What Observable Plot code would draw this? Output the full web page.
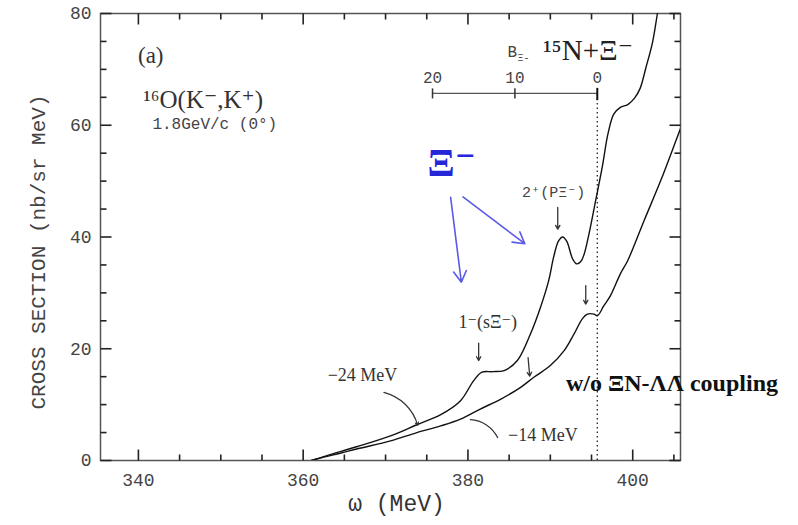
<!DOCTYPE html>
<html>
<head>
<meta charset="utf-8">
<script src="https://cdn.jsdelivr.net/npm/d3@7"></script>
<script src="https://cdn.jsdelivr.net/npm/@observablehq/plot@0.6"></script>
<style>
  html, body { margin: 0; padding: 0; background: #fff; }
  #chart { width: 798px; height: 525px; }
</style>
</head>
<body>
<div id="chart"></div>
<script>
// ---- data ----
const omegaUpper = [361.0, 362.5, 364.5, 366.6, 370.6, 373.8, 376.7, 379.1, 380.7, 381.7, 383.0, 384.4, 386.0, 387.6, 388.8, 389.8, 390.4, 391.0, 391.5, 392.0, 392.7, 393.2, 393.7, 394.1, 394.7, 395.5, 396.3, 397.0, 397.7, 398.5, 399.4, 400.2, 400.9, 401.6, 402.4, 403.0, 403.5];
const sigmaUpper = [0, 0.7, 1.6, 2.5, 4.4, 6.4, 8.2, 10.7, 14.3, 15.8, 15.9, 16.1, 17.9, 22.7, 27.4, 32.2, 36.4, 39.3, 40.0, 39.2, 36.1, 35.2, 35.6, 36.9, 40.6, 46.5, 52.5, 58.5, 62.0, 63.2, 63.7, 64.8, 66.6, 70.3, 74.8, 80.0, 84.0];

const omegaLower = [361.0, 362.5, 364.5, 366.6, 370.6, 373.8, 376.7, 379.1, 381.5, 384.0, 386.4, 388.0, 390.0, 391.7, 392.9, 393.9, 394.5, 395.3, 395.7, 396.5, 397.3, 398.5, 399.4, 401.4, 403.4, 404.8, 405.8];
const sigmaLower = [0, 0.6, 1.3, 2.1, 3.5, 5.0, 6.2, 7.4, 9.2, 11.0, 13.1, 14.9, 17.0, 19.7, 22.7, 25.4, 26.2, 26.2, 25.9, 27.7, 29.5, 33.4, 35.8, 43.0, 50.1, 55.5, 59.4];

const xMajorTicks = [340, 360, 380, 400];
const xMinorTicks = [345, 350, 355, 365, 370, 375, 385, 390, 395, 405];
const yMajorTicks = [0, 20, 40, 60, 80];
const yMinorTicks = [5, 10, 15, 25, 30, 35, 45, 50, 55, 65, 70, 75];
const bindingTicks = [20, 10, 0];
const thresholdOmega = 395.7;   // Xi- threshold (B = 0)
const bindingBarLevel = 65.7;   // height of the B scale bar

const upper = omegaUpper.map((w, i) => ({w, s: sigmaUpper[i]}));
const lower = omegaLower.map((w, i) => ({w, s: sigmaLower[i]}));

const mono = "Liberation Mono, DejaVu Sans Mono, monospace";
const serif = "Liberation Serif, DejaVu Serif, serif";

const W = 798, H = 525, ML = 100, MR = 118, MT = 13, MB = 65;
const frameW = W - ML - MR, frameH = H - MT - MB;
const xDomain = [335.4, 405.8], yDomain = [0, 80];
// tick lengths converted from pixels to data units
const xPerPx = (xDomain[1] - xDomain[0]) / frameW;
const yPerPx = (yDomain[1] - yDomain[0]) / frameH;

// tick segments built from the tick values (all four sides, inward)
const tickSegments = [
  ...xMajorTicks.flatMap(v => [
    {x1: v, x2: v, y1: yDomain[0], y2: yDomain[0] + 11 * yPerPx},
    {x1: v, x2: v, y1: yDomain[1], y2: yDomain[1] - 11 * yPerPx}]),
  ...xMinorTicks.flatMap(v => [
    {x1: v, x2: v, y1: yDomain[0], y2: yDomain[0] + 6 * yPerPx},
    {x1: v, x2: v, y1: yDomain[1], y2: yDomain[1] - 6 * yPerPx}]),
  ...yMajorTicks.flatMap(v => [
    {y1: v, y2: v, x1: xDomain[0], x2: xDomain[0] + 11 * xPerPx},
    {y1: v, y2: v, x1: xDomain[1], x2: xDomain[1] - 11 * xPerPx}]),
  ...yMinorTicks.flatMap(v => [
    {y1: v, y2: v, x1: xDomain[0], x2: xDomain[0] + 6 * xPerPx},
    {y1: v, y2: v, x1: xDomain[1], x2: xDomain[1] - 6 * xPerPx}])
];

const blackArrows = [
  {x1: 390.9, y1: 45.3, x2: 390.9, y2: 41.4},
  {x1: 381.3, y1: 21.0, x2: 381.3, y2: 17.9},
  {x1: 387.3, y1: 18.4, x2: 387.5, y2: 15.1},
  {x1: 394.3, y1: 31.3, x2: 394.3, y2: 28.0}
];
const blueArrows = [
  {x1: 377.9, y1: 47.1, x2: 379.2, y2: 31.9},
  {x1: 379.4, y1: 47.2, x2: 386.9, y2: 38.8}
];

const chart = Plot.plot({
  width: W,
  height: H,
  marginLeft: ML,
  marginRight: MR,
  marginTop: MT,
  marginBottom: MB,
  x: {domain: xDomain},
  y: {domain: yDomain},
  style: {background: "#fff", color: "#333", fontFamily: mono},
  marks: [
    Plot.frame({stroke: "#555", strokeWidth: 1.5, fill: "none"}),
    // axes: labels only
    Plot.axisX(xMajorTicks, {anchor: "bottom", tickSize: 0, tickPadding: 13, fontSize: 18, fill: "#444", label: null, fontFamily: mono}),
    Plot.axisY(yMajorTicks, {anchor: "left", tickSize: 0, tickPadding: 9, fontSize: 18, fill: "#444", label: null, fontFamily: mono}),
    // inward ticks on all four sides
    Plot.link(tickSegments, {x1: "x1", y1: "y1", x2: "x2", y2: "y2", stroke: "#222", strokeWidth: 1.6}),

    // axis titles
    Plot.text(["ω (MeV)"], {frameAnchor: "bottom", dx: 6, dy: 50, fontSize: 23, fill: "#333", fontFamily: mono}),
    Plot.text(["CROSS SECTION (nb/sr MeV)"], {frameAnchor: "left", textAnchor: "middle", dx: -62, dy: 15, rotate: -90, fontSize: 21, fill: "#444", fontFamily: mono}),

    // threshold dotted line and B scale bar
    Plot.ruleX([thresholdOmega], {y1: 0, y2: bindingBarLevel, stroke: "#222", strokeWidth: 1.3, strokeDasharray: "1.5,3"}),
    Plot.ruleY([bindingBarLevel], {x1: thresholdOmega - bindingTicks[0], x2: thresholdOmega, stroke: "#555", strokeWidth: 1.2}),
    Plot.link(bindingTicks.filter(b => b !== 0), {x1: b => thresholdOmega - b, x2: b => thresholdOmega - b, y1: bindingBarLevel - 0.9, y2: bindingBarLevel + 0.9, stroke: "#333", strokeWidth: 1.5}),
    Plot.ruleX([0], {x: b => thresholdOmega - b, y1: bindingBarLevel - 1.3, y2: bindingBarLevel + 0.9, stroke: "#111", strokeWidth: 2}),
    Plot.text(bindingTicks, {x: b => thresholdOmega - b, y: bindingBarLevel, dy: -16, text: d => String(d), fontSize: 16, fill: "#444", fontFamily: mono}),

    // curves
    Plot.line(upper, {x: "w", y: "s", curve: "catmull-rom", stroke: "#111", strokeWidth: 1.4, clip: true}),
    Plot.line(lower, {x: "w", y: "s", curve: "catmull-rom", stroke: "#111", strokeWidth: 1.4, clip: true}),

    // annotations
    Plot.text(["(a)"], {x: 341.5, y: 72.5, fontSize: 23, fill: "#333", fontFamily: serif}),
    Plot.text(["¹⁶O(K⁻,K⁺)"], {x: 340.6, y: 64.6, textAnchor: "start", fontSize: 25, fill: "#333", fontFamily: serif}),
    Plot.text(["1.8GeV/c (0°)"], {x: 341.7, y: 60.3, textAnchor: "start", fontSize: 16, fill: "#444", fontFamily: mono}),
    Plot.text(["B"], {x: 384.8, y: 73.2, textAnchor: "start", fontSize: 16, fill: "#444", fontFamily: mono}),
    Plot.text(["Ξ-"], {x: 386.0, y: 72.0, textAnchor: "start", fontSize: 10, fill: "#444", fontFamily: mono}),
    Plot.text(["¹⁵N+Ξ⁻"], {x: 389.1, y: 73.4, textAnchor: "start", fontSize: 29, fill: "#222", fontFamily: serif}),
    Plot.text(["Ξ⁻"], {x: 375.1, y: 53.2, textAnchor: "start", fontSize: 40, fontWeight: "bold", fill: "#2626d9", fontFamily: serif}),
    Plot.arrow(blueArrows, {x1: "x1", y1: "y1", x2: "x2", y2: "y2", stroke: "#5a5ae6", strokeWidth: 1.6, headLength: 12}),
    Plot.text(["2⁺(PΞ⁻)"], {x: 390.4, y: 48.0, fontSize: 15, fill: "#444", fontFamily: mono}),
    Plot.text(["1⁻(sΞ⁻)"], {x: 382.4, y: 24.7, fontSize: 18, fill: "#333", fontFamily: serif}),
    Plot.arrow(blackArrows, {x1: "x1", y1: "y1", x2: "x2", y2: "y2", stroke: "#333", strokeWidth: 1.3, headLength: 5}),
    Plot.text(["−24 MeV"], {x: 367.2, y: 15.2, fontSize: 18, fill: "#333", fontFamily: serif}),
    Plot.arrow([{x1: 369.8, y1: 12.2, x2: 373.9, y2: 6.3}], {x1: "x1", y1: "y1", x2: "x2", y2: "y2", bend: 30, headLength: 4, stroke: "#333", strokeWidth: 1.2}),
    Plot.text(["−14 MeV"], {x: 389.1, y: 4.5, fontSize: 18, fill: "#333", fontFamily: serif}),
    Plot.arrow([{x1: 383.6, y1: 4.1, x2: 380.3, y2: 7.3}], {x1: "x1", y1: "y1", x2: "x2", y2: "y2", bend: -30, headLength: 0, stroke: "#333", strokeWidth: 1.2}),
    Plot.text(["w/o ΞN-ΛΛ coupling"], {x: 391.9, y: 13.8, textAnchor: "start", fontSize: 24, fontWeight: "bold", fill: "#111", fontFamily: serif})
  ]
});
document.getElementById("chart").appendChild(chart);
</script>
</body>
</html>
